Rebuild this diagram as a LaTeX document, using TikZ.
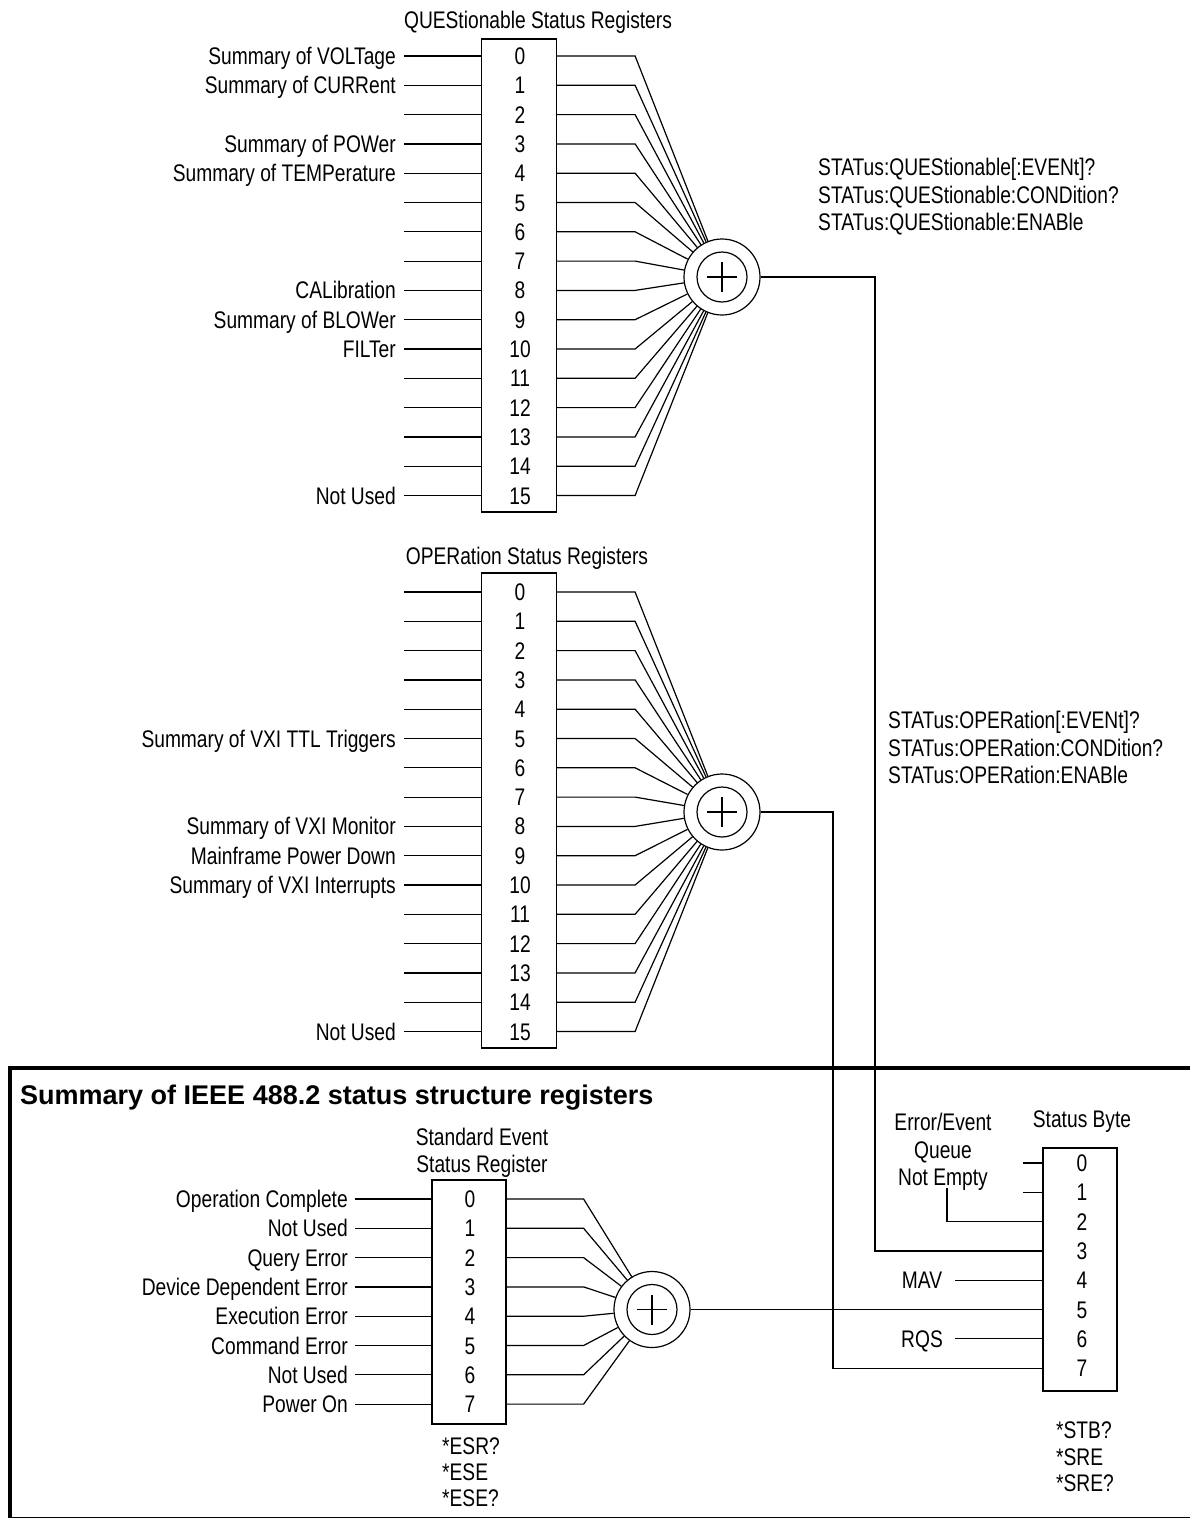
\documentclass[tikz,border=0pt]{standalone}
\usepackage{fontspec}
\setmainfont{Liberation Sans}[FakeStretch=0.80]
\newfontfamily\headfont{Liberation Sans}
\usepackage{tikz}
\usetikzlibrary{calc}

\begin{document}
\begin{tikzpicture}[
  x=1pt, y=-1pt,
  font=\fontsize{24}{27.5}\selectfont,
  wire/.style={line width=1.2pt},
  regbox/.style={draw, line width=1.2pt, minimum width=75pt, inner sep=0pt},
  bitnum/.style={inner sep=0pt, text height=17pt, text depth=0pt},
  sigtext/.style={inner sep=0pt, anchor=east, text height=17pt, text depth=0pt},
  cmdtext/.style={inner sep=0pt, anchor=west, text height=17pt, text depth=0pt},
  sumring/.style={draw, circle, line width=1.2pt, minimum size=76pt, inner sep=0pt}
]
\useasboundingbox (0,0) rectangle (1190,1518);

% QUEStionable register
\node[inner sep=0pt] (qtitle) at (538,22) {QUEStionable Status Registers};
\node[regbox, minimum height=473pt] (qreg) at (519,275.5) {};
\foreach \i in {0,...,15} {
  \node[bitnum] (qb\i) at (520,{56+29.3*\i}) {\i};
  \coordinate (qin\i) at (404,{56+29.3*\i});
  \draw[wire] (qin\i) -- (qreg.west |- qb\i);
}
\foreach \i/\t in {0/Summary of VOLTage, 1/Summary of CURRent, 3/Summary of POWer,
    4/Summary of TEMPerature, 8/CALibration, 9/Summary of BLOWer, 10/FILTer, 15/Not Used}
  \node[sigtext] (ql\i) at ([xshift=-8pt]qin\i) {\t};
\node[sumring] (qsum) at (722,277) {};
\foreach \i in {0,...,15}
  \draw[wire] (qreg.east |- qb\i) -- ++(78,0) -- (qsum);
\foreach \t [count=\k] in {STATus:QUEStionable[:EVENt]?, STATus:QUEStionable:CONDition?,
    STATus:QUEStionable:ENABle}
  \node[cmdtext] (qcmd\k) at (818,{139.5+27.5*\k}) {\t};

% OPERation register
\node[inner sep=0pt] (otitle) at (527,558) {OPERation Status Registers};
\node[regbox, minimum height=475pt] (oreg) at (519,810.5) {};
\foreach \i in {0,...,15} {
  \node[bitnum] (ob\i) at (520,{592+29.3*\i}) {\i};
  \coordinate (oin\i) at (404,{592+29.3*\i});
  \draw[wire] (oin\i) -- (oreg.west |- ob\i);
}
\foreach \i/\t in {5/Summary of VXI TTL Triggers, 8/Summary of VXI Monitor,
    9/Mainframe Power Down, 10/Summary of VXI Interrupts, 15/Not Used}
  \node[sigtext] (ol\i) at ([xshift=-8pt]oin\i) {\t};
\node[sumring] (osum) at (722,812) {};
\foreach \i in {0,...,15}
  \draw[wire] (oreg.east |- ob\i) -- ++(78,0) -- (osum);
\foreach \t [count=\k] in {STATus:OPERation[:EVENt]?, STATus:OPERation:CONDition?,
    STATus:OPERation:ENABle}
  \node[cmdtext] (ocmd\k) at (888,{692.5+27.5*\k}) {\t};

% IEEE 488.2 frame
\draw[line width=4pt] (10,1519) -- (10,1068) -- (1205,1068);
\draw[line width=4pt] (10,1519) -- (1205,1519);
\node[inner sep=0pt, anchor=west, text height=19.5pt, text depth=0pt,
  font=\headfont\bfseries\fontsize{27}{30}\selectfont] (ftitle) at (20,1095)
  {Summary of IEEE 488.2 status structure registers};

% Standard Event register
\node[align=center, inner sep=0pt] (etitle) at (482,1153) {Standard Event\\Status Register};
\node[regbox, minimum height=244pt, minimum width=74pt] (ereg) at (469,1302) {};
\foreach \i/\t in {0/Operation Complete, 1/Not Used, 2/Query Error, 3/Device Dependent Error,
    4/Execution Error, 5/Command Error, 6/Not Used, 7/Power On} {
  \node[bitnum] (eb\i) at (470,{1199+29.3*\i}) {\i};
  \coordinate (ein\i) at (355,{1199+29.3*\i});
  \node[sigtext] (el\i) at ([xshift=-7pt]ein\i) {\t};
  \draw[wire] (ein\i) -- (ereg.west |- eb\i);
}
\node[sumring] (esum) at (652,1309.5) {};
\foreach \i in {0,...,7}
  \draw[wire] (ereg.east |- eb\i) -- ++(77,0) -- (esum);
\foreach \t [count=\k] in {*ESR?, *ESE, *ESE?}
  \node[cmdtext] (ecmd\k) at (442,{1420+26*\k}) {\t};

% plus signs in the summing rings
\foreach \s in {qsum,osum,esum} {
  \draw[wire] (\s) circle[radius=25pt];
  \draw[wire] ([xshift=-15pt]\s.center) -- ([xshift=15pt]\s.center);
  \draw[wire] ([yshift=-15pt]\s.center) -- ([yshift=15pt]\s.center);
}

% Status Byte
\node[inner sep=0pt] (stitle) at (1082,1122) {Status Byte};
\node[regbox, minimum height=243pt, minimum width=74pt] (sreg) at (1080,1269.5) {};
\foreach \i in {0,...,7}
  \node[bitnum] (sb\i) at (1082,{1163+29.3*\i}) {\i};
\foreach \i in {0,1} {
  \coordinate (sin\i) at (1023,{1163+29.3*\i});
  \draw[wire] (sin\i) -- (sreg.west |- sb\i);
}
\node[align=center, inner sep=0pt] (errq) at (943,1152) {Error/Event\\Queue\\Not Empty};
\coordinate (qne) at (947,1188);
\draw[wire] (qne) |- (sreg.west |- sb2);
\node[inner sep=0pt, text height=17pt, text depth=0pt] (mav) at (922,0 |- sb4) {MAV};
\node[inner sep=0pt, text height=17pt, text depth=0pt] (rqs) at (922,0 |- sb6) {RQS};
\draw[wire] ([xshift=33pt]mav.center) -- (sreg.west |- sb4);
\draw[wire] ([xshift=33pt]rqs.center) -- (sreg.west |- sb6);
\coordinate (qturn) at (875,277);
\coordinate (oturn) at (833,812);
\draw[wire] (qsum.east) -- (qturn) |- (sreg.west |- sb3);
\draw[wire] (osum.east) -- (oturn) |- (sreg.west |- sb7);
\draw[wire] (esum.east) -- (sreg.west |- sb5);
\foreach \t [count=\k] in {*STB?, *SRE, *SRE?}
  \node[cmdtext] (scmd\k) at (1056,{1403.5+26.5*\k}) {\t};

\end{tikzpicture}
\end{document}
